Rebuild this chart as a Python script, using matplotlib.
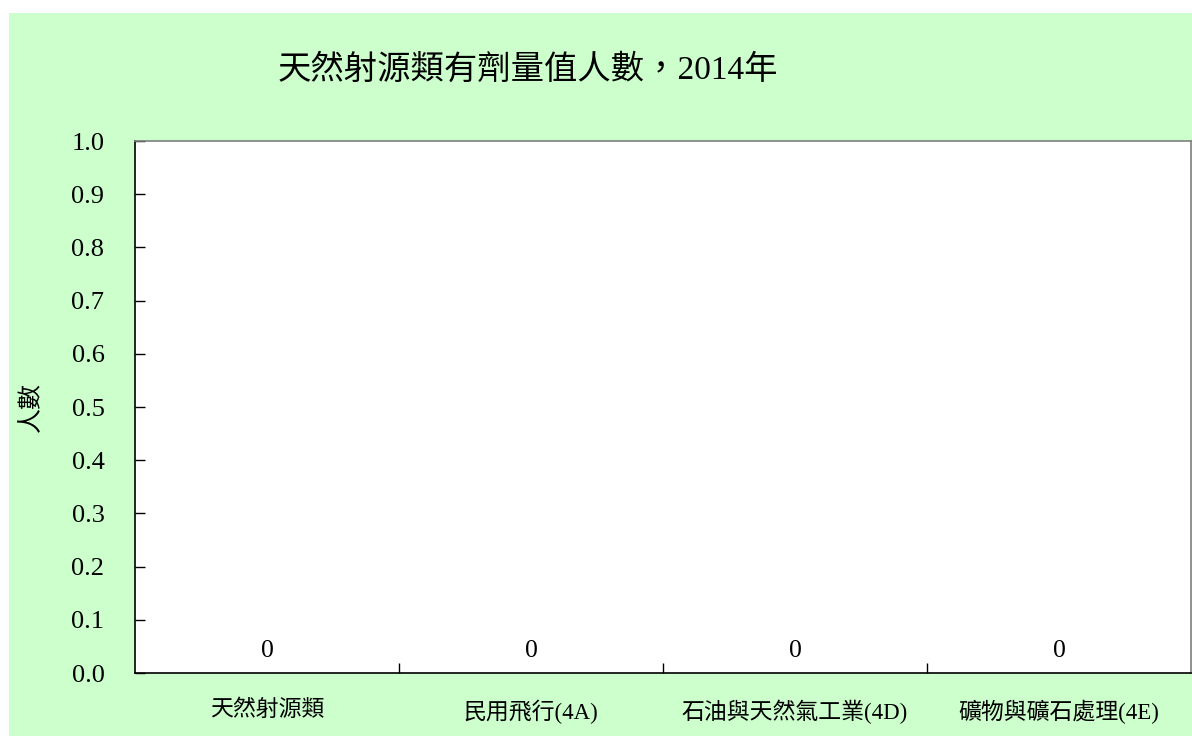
import numpy as np
import matplotlib.pyplot as plt
from matplotlib.patches import Rectangle

FONTS = ['Liberation Serif', 'Noto Sans CJK TC', 'DejaVu Sans']
plt.rcParams['font.family'] = FONTS

categories = ['天然射源類', '民用飛行(4A)', '石油與天然氣工業(4D)', '礦物與礦石處理(4E)']
values = [0, 0, 0, 0]
title = '天然射源類有劑量值人數，2014年'
ylabel = '人數'
yticks = [0.0, 0.1, 0.2, 0.3, 0.4, 0.5, 0.6, 0.7, 0.8, 0.9, 1.0]

W, H = 1192, 736
fig = plt.figure(figsize=(W / 100, H / 100), dpi=100)
fig.patch.set_facecolor('white')
# green chart area, white margin top/left
fig.patches.append(Rectangle((9 / W, 0), 1 - 9 / W, 1 - 13 / H,
                             transform=fig.transFigure, facecolor='#CCFFCC',
                             edgecolor='none', zorder=-10))

ax = fig.add_axes([135 / W, 1 - 673 / H, (1191 - 135) / W, (673 - 141) / H])
ax.set_facecolor('white')

x = np.arange(len(categories))
bars = ax.bar(x, values, width=0.6, color='#9999FF')
for xi, v in zip(x, values):
    ax.annotate(str(v), (xi, v), xytext=(0, 11.5), textcoords='offset points',
                ha='center', va='baseline', fontsize=18.5)

ax.set_xlim(-0.5, len(categories) - 0.5)
ax.set_ylim(0, 1.0)
ax.set_yticks(yticks)
ax.set_yticklabels(['%.1f' % t for t in yticks])
ax.tick_params(axis='y', direction='in', length=7, width=1, pad=22, labelsize=19)

ax.set_xticks(x)
ax.set_xticklabels(categories)
ax.tick_params(axis='x', which='major', length=0, pad=19, labelsize=16.5)
ax.set_xticks(x[:-1] + 0.5, minor=True)
ax.tick_params(axis='x', which='minor', direction='in', length=7, width=1)

for s in ['left', 'bottom']:
    ax.spines[s].set_color('black')
    ax.spines[s].set_linewidth(1.2)
for s in ['top', 'right']:
    ax.spines[s].set_color('#808080')
    ax.spines[s].set_linewidth(1.2)

fig.text(32 / W, 1 - 407 / H, ylabel, rotation=90, ha='center', va='center',
         fontsize=18)
fig.text(528 / W, 1 - 70 / H, title, ha='center', va='center', fontsize=24)

fig.savefig('out.png', dpi=100, facecolor=fig.get_facecolor())
plt.close()
